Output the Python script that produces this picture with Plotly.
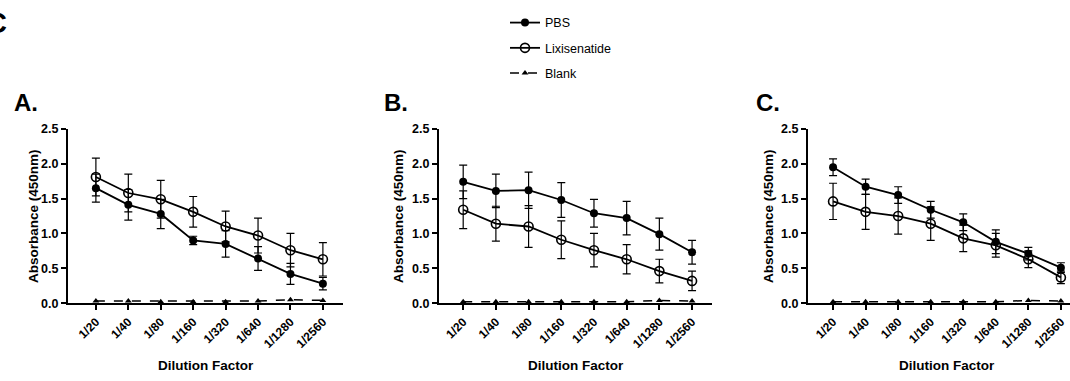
import plotly.graph_objects as go

# Dilution series shared by all three panels
dilutions = ["1/20", "1/40", "1/80", "1/160", "1/320", "1/640", "1/1280", "1/2560"]

# Panel A
a_pbs = [1.65, 1.41, 1.28, 0.90, 0.85, 0.64, 0.42, 0.28]
a_pbs_err = [0.20, 0.22, 0.21, 0.06, 0.19, 0.17, 0.15, 0.09]
a_lixi = [1.81, 1.58, 1.49, 1.31, 1.10, 0.97, 0.76, 0.63]
a_lixi_err = [0.27, 0.27, 0.27, 0.22, 0.22, 0.25, 0.24, 0.24]
a_blank = [0.03, 0.03, 0.02, 0.02, 0.02, 0.03, 0.05, 0.04]

# Panel B
b_pbs = [1.74, 1.61, 1.62, 1.48, 1.29, 1.22, 0.99, 0.73]
b_pbs_err = [0.24, 0.24, 0.26, 0.25, 0.20, 0.24, 0.23, 0.17]
b_lixi = [1.34, 1.14, 1.10, 0.91, 0.76, 0.63, 0.46, 0.32]
b_lixi_err = [0.27, 0.25, 0.30, 0.27, 0.24, 0.21, 0.17, 0.14]
b_blank = [0.02, 0.02, 0.02, 0.02, 0.02, 0.02, 0.04, 0.03]

# Panel C
c_pbs = [1.95, 1.67, 1.55, 1.34, 1.16, 0.88, 0.71, 0.51]
c_pbs_err = [0.12, 0.11, 0.12, 0.12, 0.12, 0.17, 0.09, 0.07]
c_lixi = [1.46, 1.31, 1.25, 1.14, 0.93, 0.83, 0.63, 0.37]
c_lixi_err = [0.26, 0.25, 0.26, 0.24, 0.19, 0.17, 0.12, 0.09]
c_blank = [0.02, 0.02, 0.02, 0.02, 0.02, 0.02, 0.04, 0.03]

y_ticks = [0.0, 0.5, 1.0, 1.5, 2.0, 2.5]

W, H = 1070, 381
FONT = "Liberation Sans, Arial, sans-serif"

panels = [
    # letter, pbs, pbs err, lixi, lixi err, blank, x-domain px, x-range, letter x, y-title x
    ("A.", a_pbs, a_pbs_err, a_lixi, a_lixi_err, a_blank, (68, 343), (-0.86, 7.62), 12, 33),
    ("B.", b_pbs, b_pbs_err, b_lixi, b_lixi_err, b_blank, (439, 712), (-0.74, 7.61), 382, 398),
    ("C.", c_pbs, c_pbs_err, c_lixi, c_lixi_err, c_blank, (808, 1070), (-0.77, 7.28), 754, 768),
]

y_dom = ((H - 307.5) / H, (H - 126.5) / H)
xs = list(range(len(dilutions)))

fig = go.Figure()
annotations = []

for i, (letter, pbs, pbs_e, lixi, lixi_e, blank, xd, xr, lx, ytx) in enumerate(panels):
    n = "" if i == 0 else str(i + 1)
    xa, ya = "x" + n, "y" + n
    show = i == 0
    err_style = dict(type="data", visible=True, color="black", thickness=1.2, width=4)

    fig.add_trace(go.Scatter(
        x=xs, y=pbs, xaxis=xa, yaxis=ya, name="PBS", legendgroup="pbs", showlegend=show,
        mode="lines+markers", line=dict(color="black", width=1.8),
        marker=dict(symbol="circle", size=8, color="black"),
        error_y=dict(array=pbs_e, **err_style), cliponaxis=False,
    ))
    fig.add_trace(go.Scatter(
        x=xs, y=lixi, xaxis=xa, yaxis=ya, name="Lixisenatide", legendgroup="lixi", showlegend=show,
        mode="lines+markers", line=dict(color="black", width=1.8),
        marker=dict(symbol="circle-open", size=9, color="black", line=dict(width=1.6)),
        error_y=dict(array=lixi_e, **err_style), cliponaxis=False,
    ))
    fig.add_trace(go.Scatter(
        x=xs, y=blank, xaxis=xa, yaxis=ya, name="Blank", legendgroup="blank", showlegend=show,
        mode="lines+markers", line=dict(color="black", width=1.5, dash="dash"),
        marker=dict(symbol="triangle-up", size=6, color="black"),
        cliponaxis=False,
    ))

    x_key = "xaxis" + n
    y_key = "yaxis" + n
    fig.update_layout({
        x_key: dict(
            domain=[xd[0] / W, xd[1] / W], range=list(xr), anchor=ya,
            tickmode="array", tickvals=xs, ticktext=dilutions, tickangle=-45,
            showline=True, linecolor="black", linewidth=2, ticks="outside",
            ticklen=5, tickwidth=1.5, tickcolor="black", showgrid=False, zeroline=False,
            tickfont=dict(family=FONT, size=12, color="black", weight="bold"),
        ),
        y_key: dict(
            domain=list(y_dom), range=[0, 2.5], anchor=xa,
            tickmode="array", tickvals=y_ticks, tickformat=".1f",
            showline=True, linecolor="black", linewidth=2, ticks="outside",
            ticklen=5, tickwidth=1.5, tickcolor="black", showgrid=False, zeroline=False,
            tickfont=dict(family=FONT, size=12.5, color="black", weight="bold"),
        ),
    })

    # panel letter
    annotations.append(dict(
        text=letter, x=lx / W, y=1 - 99 / H, xref="paper", yref="paper",
        xanchor="left", yanchor="middle", showarrow=False,
        font=dict(family=FONT, size=24, color="black", weight="bold"),
    ))
    # y-axis title
    annotations.append(dict(
        text="Absorbance (450nm)", x=ytx / W, y=(y_dom[0] + y_dom[1]) / 2,
        xref="paper", yref="paper", xanchor="center", yanchor="middle",
        textangle=-90, showarrow=False,
        font=dict(family=FONT, size=13.5, color="black", weight="bold"),
    ))
    # x-axis title
    x_center = (xd[0] + xd[1]) / 2 if i < 2 else 947
    annotations.append(dict(
        text="Dilution Factor", x=x_center / W, y=1 - 372 / H,
        xref="paper", yref="paper", xanchor="center", yanchor="middle", showarrow=False,
        font=dict(family=FONT, size=13.5, color="black", weight="bold"),
    ))

# figure label in the top-left corner
annotations.append(dict(
    text="C", x=9 / W, y=1 - 17 / H, xref="paper", yref="paper",
    xanchor="right", yanchor="middle", showarrow=False,
    font=dict(family=FONT, size=29, color="black", weight="bold"),
))

fig.update_layout(
    width=W, height=H,
    margin=dict(l=0, r=0, t=0, b=0),
    paper_bgcolor="white", plot_bgcolor="white",
    annotations=annotations,
    showlegend=True,
    legend=dict(
        x=505 / W, y=1 - 1 / H, xanchor="left", yanchor="top",
        orientation="v", itemwidth=30, tracegroupgap=6,
        font=dict(family=FONT, size=12.5, color="black"),
        bgcolor="rgba(0,0,0,0)",
    ),
)

fig.write_html("out.html")
